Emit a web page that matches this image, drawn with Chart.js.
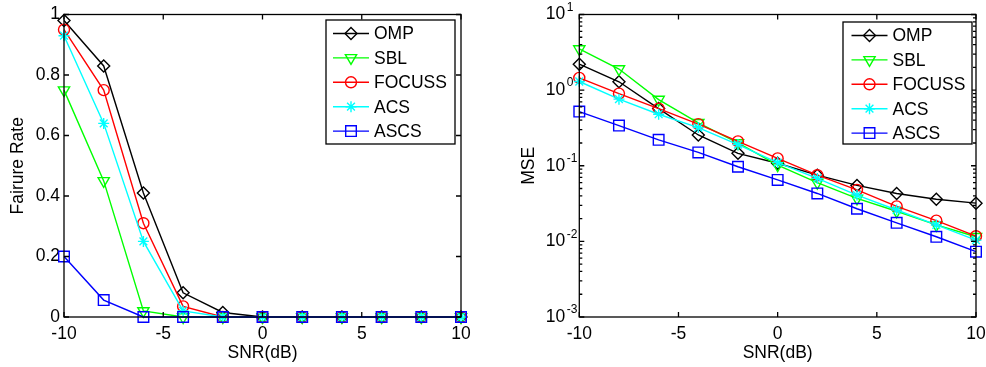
<!DOCTYPE html>
<html>
<head>
<meta charset="utf-8">
<script src="https://cdn.jsdelivr.net/npm/chart.js@4.4.1/dist/chart.umd.min.js"></script>
<style>
  body { margin: 0; background: #fff; }
  #wrap { position: relative; width: 986px; height: 367px; }
  canvas { position: absolute; top: 0; }
</style>
</head>
<body>
<div id="wrap">
  <canvas id="rateChart" width="493" height="367" style="left:0"></canvas>
  <canvas id="mseChart" width="493" height="367" style="left:493px"></canvas>
</div>
<script>
// SNR points (dB)
const snr = [-10, -8, -6, -4, -2, 0, 2, 4, 6, 8, 10];
const methods = ['OMP', 'SBL', 'FOCUSS', 'ACS', 'ASCS'];

// failure rate (left plot)
const rateOMP    = [0.98, 0.83, 0.41, 0.08, 0.015, 0, 0, 0, 0, 0, 0];
const rateSBL    = [0.75, 0.45, 0.02, 0, 0, 0, 0, 0, 0, 0, 0];
const rateFOCUSS = [0.95, 0.75, 0.31, 0.035, 0, 0, 0, 0, 0, 0, 0];
const rateACS    = [0.93, 0.64, 0.25, 0.02, 0, 0, 0, 0, 0, 0, 0];
const rateASCS   = [0.2, 0.056, 0, 0, 0, 0, 0, 0, 0, 0, 0];

// MSE (right plot)
const mseOMP    = [2.2, 1.29, 0.57, 0.255, 0.146, 0.108, 0.075, 0.055, 0.043, 0.036, 0.032];
const mseSBL    = [3.5, 1.9, 0.75, 0.37, 0.2, 0.102, 0.06, 0.037, 0.025, 0.0165, 0.0115];
const mseFOCUSS = [1.45, 0.9, 0.57, 0.355, 0.21, 0.125, 0.075, 0.048, 0.029, 0.0188, 0.0117];
const mseACS    = [1.3, 0.76, 0.48, 0.32, 0.19, 0.11, 0.068, 0.041, 0.026, 0.0165, 0.0104];
const mseASCS   = [0.52, 0.34, 0.22, 0.15, 0.097, 0.065, 0.043, 0.027, 0.0176, 0.0115, 0.0073];

const xTicks = [-10, -5, 0, 5, 10];
const rateTicks = [0, 0.2, 0.4, 0.6, 0.8, 1];
const mseDecades = [-3, -2, -1, 0, 1];

// styles
const colors = ['#000000', '#00ff00', '#ff0000', '#00ffff', '#0000ff'];
const markers = ['rectRot', 'triangle', 'circle', 'star', 'rect'];
const markerRot = [0, 180, 0, 0, 0];
const markerSize = [6, 6.5, 5.5, 5.5, 7.5];

const FONT = "'Liberation Sans', Arial, sans-serif";

function makeSets(series) {
  return series.map((vals, i) => ({
    label: methods[i],
    data: snr.map((x, j) => ({ x: x, y: vals[j] })),
    borderColor: colors[i],
    backgroundColor: 'rgba(0,0,0,0)',
    borderWidth: 1.4,
    pointStyle: markers[i],
    rotation: markerRot[i],
    pointRadius: markerSize[i],
    pointBorderWidth: 1.4,
    pointBorderColor: colors[i],
    pointBackgroundColor: 'rgba(0,0,0,0)',
    tension: 0,
    clip: false,
    order: 4 - i
  }));
}

// matlab style box with inward ticks
const framePlugin = {
  id: 'frame',
  afterDatasetsDraw(chart) {
    const ctx = chart.ctx, a = chart.chartArea;
    const xs = chart.scales.x, ys = chart.scales.y;
    ctx.save();
    ctx.strokeStyle = '#000';
    ctx.lineWidth = 1.3;
    ctx.strokeRect(a.left, a.top, a.right - a.left, a.bottom - a.top);
    ctx.beginPath();
    xTicks.forEach(v => {
      const px = xs.getPixelForValue(v);
      ctx.moveTo(px, a.bottom); ctx.lineTo(px, a.bottom - 5);
      ctx.moveTo(px, a.top); ctx.lineTo(px, a.top + 5);
    });
    if (ys.type === 'logarithmic') {
      mseDecades.forEach(p => {
        const py = ys.getPixelForValue(Math.pow(10, p));
        ctx.moveTo(a.left, py); ctx.lineTo(a.left + 5, py);
        ctx.moveTo(a.right, py); ctx.lineTo(a.right - 5, py);
        if (p < 1) {
          for (let m = 2; m <= 9; m++) {
            const my = ys.getPixelForValue(m * Math.pow(10, p));
            ctx.moveTo(a.left, my); ctx.lineTo(a.left + 3, my);
            ctx.moveTo(a.right, my); ctx.lineTo(a.right - 3, my);
          }
        }
      });
    } else {
      rateTicks.forEach(v => {
        const py = ys.getPixelForValue(v);
        ctx.moveTo(a.left, py); ctx.lineTo(a.left + 5, py);
        ctx.moveTo(a.right, py); ctx.lineTo(a.right - 5, py);
      });
    }
    ctx.stroke();
    ctx.restore();
  },
  afterDraw(chart) {
    const ctx = chart.ctx, a = chart.chartArea;
    const ys = chart.scales.y;
    // exponents for log labels
    if (ys.type === 'logarithmic') {
      ctx.save();
      ctx.fillStyle = '#000';
      ctx.font = '12px ' + FONT;
      ctx.textAlign = 'left';
      ctx.textBaseline = 'middle';
      mseDecades.forEach(p => {
        const py = ys.getPixelForValue(Math.pow(10, p));
        ctx.fillText(String(p), a.left - 12.5, py - 7);
      });
      ctx.restore();
    }
    // legend
    const lg = chart.options.plugins.frame;
    const bx = a.right - lg.offRight - lg.w, by = a.top + lg.offTop;
    ctx.save();
    ctx.fillStyle = '#fff';
    ctx.fillRect(bx, by, lg.w, lg.h);
    ctx.strokeStyle = '#000';
    ctx.lineWidth = 1.3;
    ctx.strokeRect(bx, by, lg.w, lg.h);
    chart.data.datasets.forEach((ds, i) => {
      const ry = by + 13.5 + i * 24.4;
      const x0 = bx + lg.lineStart, x1 = x0 + 36;
      ctx.strokeStyle = ds.borderColor;
      ctx.lineWidth = 1.4;
      ctx.beginPath();
      ctx.moveTo(x0, ry); ctx.lineTo(x1, ry);
      ctx.stroke();
      ctx.fillStyle = 'rgba(0,0,0,0)';
      Chart.helpers.drawPoint(ctx, {
        pointStyle: ds.pointStyle, rotation: ds.rotation,
        radius: ds.pointRadius, borderWidth: 1.4
      }, (x0 + x1) / 2, ry);
      ctx.fillStyle = '#000';
      ctx.font = '17.5px ' + FONT;
      ctx.textAlign = 'left';
      ctx.textBaseline = 'middle';
      ctx.fillText(ds.label, x1 + 5, ry + 1);
    });
    ctx.restore();
  }
};

function xScale() {
  return {
    type: 'linear', min: -10, max: 10,
    grid: { drawOnChartArea: false, drawTicks: false, display: false },
    border: { display: false },
    ticks: { stepSize: 5, color: '#000', padding: 7, font: { family: FONT, size: 17.5 }, maxRotation: 0 },
    title: { display: true, text: 'SNR(dB)', color: '#000', padding: { top: 0, bottom: 3 }, font: { family: FONT, size: 17.5 } },
    afterFit(s) { s.height = 50; s.paddingLeft = 0; s.paddingRight = 0; }
  };
}

new Chart(document.getElementById('rateChart'), {
  type: 'line',
  data: { datasets: makeSets([rateOMP, rateSBL, rateFOCUSS, rateACS, rateASCS]) },
  options: {
    responsive: false, animation: false, devicePixelRatio: 1,
    layout: { padding: { left: 0, top: 14.5, right: 32, bottom: 0 } },
    plugins: {
      legend: { display: false }, tooltip: { enabled: false },
      frame: { w: 129, h: 124, offRight: 6, offTop: 5.5, lineStart: 7 }
    },
    scales: {
      x: xScale(),
      y: {
        type: 'linear', min: 0, max: 1,
        grid: { display: false, drawTicks: false },
        border: { display: false },
        ticks: {
          stepSize: 0.2, color: '#000', padding: 4, font: { family: FONT, size: 17.5 },
          callback(v) { return String(Number(v.toFixed(1))); }
        },
        title: { display: true, text: 'Fairure Rate', color: '#000', padding: { top: 8, bottom: 0 }, font: { family: FONT, size: 17.5 } },
        afterFit(s) { s.width = 64; s.paddingTop = 0; s.paddingBottom = 0; }
      }
    }
  },
  plugins: [framePlugin]
});

new Chart(document.getElementById('mseChart'), {
  type: 'line',
  data: { datasets: makeSets([mseOMP, mseSBL, mseFOCUSS, mseACS, mseASCS]) },
  options: {
    responsive: false, animation: false, devicePixelRatio: 1,
    layout: { padding: { left: 0, top: 14.5, right: 10, bottom: 0 } },
    plugins: {
      legend: { display: false }, tooltip: { enabled: false },
      frame: { w: 129, h: 122, offRight: 4, offTop: 7.5, lineStart: 8.5 }
    },
    scales: {
      x: xScale(),
      y: {
        type: 'logarithmic', min: 0.001, max: 10,
        grid: { display: false, drawTicks: false },
        border: { display: false },
        ticks: {
          color: '#000', padding: 14, autoSkip: false, font: { family: FONT, size: 17.5 },
          callback(v) {
            const l = Math.log10(v);
            return Math.abs(l - Math.round(l)) < 1e-9 ? '10' : '';
          }
        },
        title: { display: true, text: 'MSE', color: '#000', padding: { top: 26, bottom: 0 }, font: { family: FONT, size: 17.5 } },
        afterFit(s) { s.width = 86.3; s.paddingTop = 0; s.paddingBottom = 0; }
      }
    }
  },
  plugins: [framePlugin]
});
</script>
</body>
</html>
